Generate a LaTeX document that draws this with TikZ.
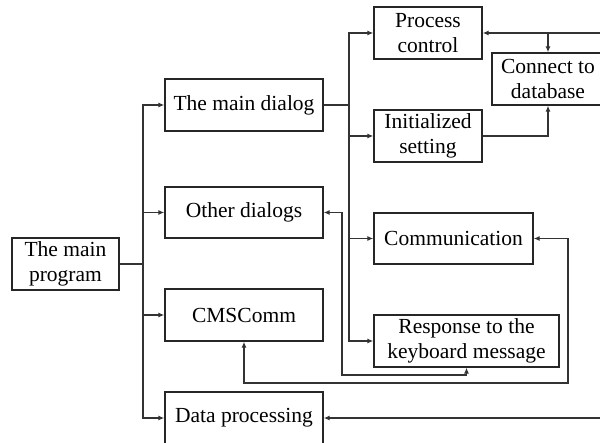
\documentclass[tikz,border=0pt]{standalone}
\usepackage{fontspec}
\setmainfont{Liberation Serif}
\usetikzlibrary{arrows.meta,calc}
\begin{document}
\begin{tikzpicture}[x=1pt,y=-1pt,
  box/.style={draw=black!85,line width=1.3pt,inner sep=0pt,align=center,
    font=\fontsize{21.5}{25.5}\selectfont},
  link/.style={draw=black!80,line width=1.2pt},
  tip/.tip={Latex[length=6pt,width=5pt]},
  arr/.style={link,-tip},
  both/.style={link,tip-tip}]
\useasboundingbox (0,0) rectangle (600,443);
\clip (0,0) rectangle (600,443);

% boxes
\node[box,minimum width=107pt,minimum height=52pt] (mainprog) at (65.5,264) {The main\\program};
\node[box,minimum width=158pt,minimum height=52pt] (maindlg) at (244,105) {The main dialog};
\node[box,minimum width=158pt,minimum height=51pt] (otherdlg) at (244,212.5) {Other dialogs};
\node[box,minimum width=158pt,minimum height=52pt] (cmscomm) at (244,315) {CMSComm};
\node[box,minimum width=158pt,minimum height=52pt] (dataproc) at (244,418) {Data processing};
\node[box,minimum width=108pt,minimum height=52pt] (proc) at (428,33) {Process\\control};
\node[box,minimum width=112pt,minimum height=52pt] (connect) at (548,79) {Connect to\\database};
\node[box,minimum width=108pt,minimum height=52pt] (init) at (428,136) {Initialized\\setting};
\node[box,minimum width=159pt,minimum height=51pt] (comm) at (453.5,238.5) {Communication};
\node[box,minimum width=185pt,minimum height=52pt] (resp) at (466.5,341) {Response to the\\keyboard message};

% junction points and free ends
\coordinate (trunkA) at (143,264);
\coordinate (trunkB) at (349,105);
\coordinate (inTop) at (604,33);
\coordinate (inBot) at (604,418);
\coordinate (tap) at (548,33);

% main program fans out to the four modules
\draw[arr] (mainprog.east) -- (trunkA) |- (maindlg.west);
\draw[arr] (mainprog.east) -- (trunkA) |- (otherdlg.west);
\draw[arr] (mainprog.east) -- (trunkA) |- (cmscomm.west);
\draw[arr] (mainprog.east) -- (trunkA) |- (dataproc.west);

% main dialog fans out to its tasks
\draw[arr] (maindlg.east) -- (trunkB) |- (proc.west);
\draw[arr] (maindlg.east) -- (trunkB) |- (init.west);
\draw[arr] (maindlg.east) -- (trunkB) |- (comm.west);
\draw[arr] (maindlg.east) -- (trunkB) |- (resp.west);

% database links
\draw[arr] (inTop) -- (proc.east);
\draw[arr] (tap) -- (connect.north);
\draw[arr] (init.east) -| (connect.south);

% feedback loops
\draw[both] (otherdlg.east) -- (342,212.5) -- (342,375) -| (resp.south);
\draw[both] (cmscomm.south) -- (244,383) -- (568,383) |- (comm.east);
\draw[arr] (inBot) -- (dataproc.east);
\end{tikzpicture}
\end{document}
